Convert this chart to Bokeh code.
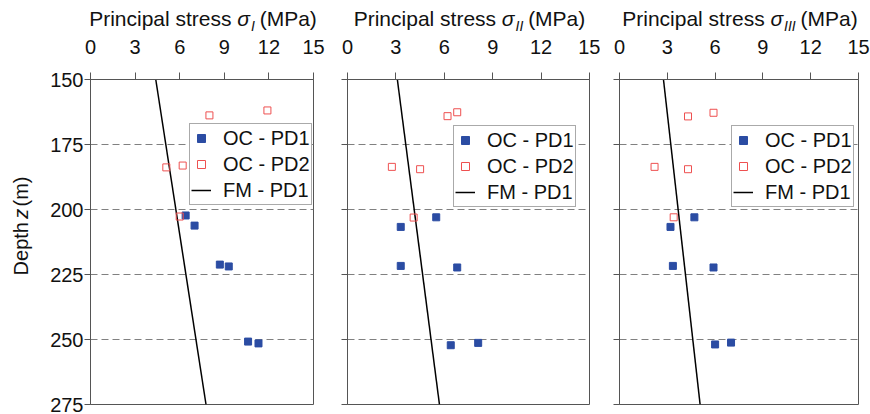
import math
from bokeh.plotting import figure
from bokeh.layouts import row, column
from bokeh.models import Range1d, FixedTicker, Legend, LegendItem, Label
from bokeh.embed import file_html
from bokeh.resources import INLINE

# ---------------- data ----------------
depth_ticks = [150, 175, 200, 225, 250, 275]
stress_ticks = [0, 3, 6, 9, 12, 15]
panel_subscripts = ["I", "II", "III"]
legend_labels = ["OC - PD1", "OC - PD2", "FM - PD1"]

# Panel sigma_I
s1_pd1_stress = [6.4, 7.0, 8.7, 9.3, 10.6, 11.3]
s1_pd1_depth = [202.3, 206.2, 221.2, 221.9, 250.8, 251.5]
s1_pd2_stress = [8.0, 11.9, 5.1, 6.2, 6.0]
s1_pd2_depth = [163.8, 161.9, 183.8, 183.1, 202.7]
s1_fm_stress = [4.39, 7.77]
s1_fm_depth = [150, 275]

# Panel sigma_II
s2_pd1_stress = [5.5, 3.3, 3.3, 6.8, 6.4, 8.1]
s2_pd1_depth = [203.0, 206.7, 221.7, 222.3, 252.2, 251.3]
s2_pd2_stress = [6.2, 6.8, 2.75, 4.5, 4.1]
s2_pd2_depth = [164.1, 162.6, 183.6, 184.5, 203.1]
s2_fm_stress = [3.09, 5.70]
s2_fm_depth = [150, 275]

# Panel sigma_III
s3_pd1_stress = [4.7, 3.2, 3.35, 5.9, 6.0, 7.0]
s3_pd1_depth = [203.0, 206.7, 221.7, 222.3, 251.9, 251.2]
s3_pd2_stress = [4.3, 5.9, 2.2, 4.3, 3.4]
s3_pd2_depth = [164.2, 162.8, 183.6, 184.5, 203.0]
s3_fm_stress = [2.76, 5.06]
s3_fm_depth = [150, 275]

# ---------------- style ----------------
FONT = "Liberation Sans"
BLUE = "#2B4CA3"
RED = "#EE5050"
FRAME = "#555555"
TXT = "#111111"
HEAD_H = 35
PANEL_H = 414 - HEAD_H
TOP, BOTTOM = 79 - HEAD_H, 10
YLAB_W = 36

W = {'P': .667, 'r': .333, 'i': .222, 'n': .556, 'c': .5, 'p': .556, 'a': .556,
     'l': .222, ' ': .278, 's': .5, 't': .278, 'e': .556, '(': .333, 'M': .833,
     ')': .333, 'I': .278, 'σ': .6, 'D': .722, 'h': .556, 'z': .5, 'm': .833}


def tw(s, size):
    return sum(W.get(c, .55) for c in s) * size


def blank_fig(w, h):
    f = figure(width=w, height=h, x_range=Range1d(0, w), y_range=Range1d(h, 0),
               x_axis_location=None, y_axis_location=None, output_backend="svg",
               toolbar_location=None, min_border=0, min_border_left=0, min_border_right=0,
               min_border_top=0, min_border_bottom=0, background_fill_color="white",
               border_fill_color="white")
    f.outline_line_color = None
    f.grid.visible = False
    return f


def place_pieces(f, pieces, start, fixed, horizontal):
    """pieces: (text, style, size, gap_after, offset)."""
    pos = start
    for t, style, s, gap, off in pieces:
        w = tw(t, s)
        c = pos + w / 2 if horizontal else pos - w / 2
        if horizontal:
            kw = dict(x=c, y=fixed + off)
        else:
            kw = dict(x=fixed + off, y=c, angle=math.pi / 2)
        f.add_layout(Label(text=t, text_font=FONT, text_font_size=f"{s}px",
                           text_font_style=style, text_color=TXT, text_align="center",
                           text_baseline="middle", **kw))
        pos = pos + (w + gap) * (1 if horizontal else -1)


def add_title(f, center_x, sub):
    big, small = 21, 14
    sp = tw(" ", big)
    pieces = [("Principal stress", "normal", big, sp, 0),
              ("σ", "italic", big, 1, 0),
              (sub, "italic", small, sp - 1, 7),
              ("(MPa)", "normal", big, 0, 0)]
    total = sum(tw(t, s) + g for t, _, s, g, _ in pieces)
    place_pieces(f, pieces, center_x - total / 2 + 1, 18, True)


def make_ylabel():
    f = blank_fig(YLAB_W, PANEL_H)
    size = 20
    pieces = [("Depth", "normal", size, 9, 0),
              ("z", "italic", size, 6, 0),
              ("(m)", "normal", size, 0, 0)]
    place_pieces(f, pieces, 259 - HEAD_H, 20, False)
    return f


def make_panel(width, left, right, pd1x, pd1y, pd2x, pd2y, fmx, fmy, leg_xy, show_y):
    p = figure(width=width, height=PANEL_H, x_range=Range1d(0, 15), y_range=Range1d(275, 150),
               x_axis_location="above", output_backend="svg", toolbar_location=None,
               min_border_left=left, min_border_right=right, min_border_top=TOP,
               min_border_bottom=BOTTOM, background_fill_color="white",
               border_fill_color="white")
    p.outline_line_color = FRAME
    p.outline_line_width = 1
    p.xgrid.visible = False
    p.ygrid.ticker = FixedTicker(ticks=depth_ticks[1:-1])
    p.ygrid.grid_line_color = "#808080"
    p.ygrid.grid_line_dash = "7 4"
    p.ygrid.grid_line_width = 1

    p.xaxis.ticker = FixedTicker(ticks=stress_ticks)
    p.yaxis.ticker = FixedTicker(ticks=depth_ticks)
    for ax in (p.xaxis[0], p.yaxis[0]):
        ax.axis_line_color = FRAME
        ax.major_tick_line_color = FRAME
        ax.minor_tick_line_color = None
        ax.major_tick_in = 0
        ax.major_label_text_font = FONT
        ax.major_label_text_font_size = "20px"
        ax.major_label_text_color = TXT
    p.xaxis.major_tick_out = 7
    p.xaxis.major_label_standoff = 19
    p.yaxis.major_tick_out = 6
    p.yaxis.major_label_standoff = 1
    if not show_y:
        p.yaxis.major_label_overrides = {t: "" for t in depth_ticks}

    r_fm = p.line(fmx, fmy, line_color="black", line_width=1.5)
    r1 = p.scatter(pd1x, pd1y, marker="square", size=7, fill_color=BLUE, line_color=BLUE)
    r2 = p.scatter(pd2x, pd2y, marker="square", size=7, fill_color=None,
                   line_color=RED, line_width=1)

    leg = Legend(items=[LegendItem(label=legend_labels[0], renderers=[r1]),
                        LegendItem(label=legend_labels[1], renderers=[r2]),
                        LegendItem(label=legend_labels[2], renderers=[r_fm])],
                 location=leg_xy, label_text_font=FONT, label_text_font_size="20px",
                 label_text_color=TXT, glyph_width=20, glyph_height=26,
                 label_height=26, spacing=0, padding=1, margin=0, label_standoff=12,
                 border_line_color=FRAME, border_line_width=1,
                 background_fill_color="white", background_fill_alpha=1)
    p.add_layout(leg)
    return p


# frame edges (pixels) of the three panels in the full picture
frames = [(90, 313), (347, 589), (619, 858)]

header = blank_fig(870, HEAD_H)
for (fl, fr), sub in zip(frames, panel_subscripts):
    add_title(header, (fl + fr) / 2, sub)

ylab = make_ylabel()
p1 = make_panel(330 - YLAB_W, 90 - YLAB_W, 17, s1_pd1_stress, s1_pd1_depth,
                s1_pd2_stress, s1_pd2_depth, s1_fm_stress, s1_fm_depth, (99, 199), True)
p2 = make_panel(270, 17, 11, s2_pd1_stress, s2_pd1_depth,
                s2_pd2_stress, s2_pd2_depth, s2_fm_stress, s2_fm_depth, (106, 197), False)
p3 = make_panel(270, 19, 12, s3_pd1_stress, s3_pd1_depth,
                s3_pd2_stress, s3_pd2_depth, s3_fm_stress, s3_fm_depth, (112, 197), False)

layout = column(header, row(ylab, p1, p2, p3))
open("out.html", "w").write(file_html(layout, INLINE))
